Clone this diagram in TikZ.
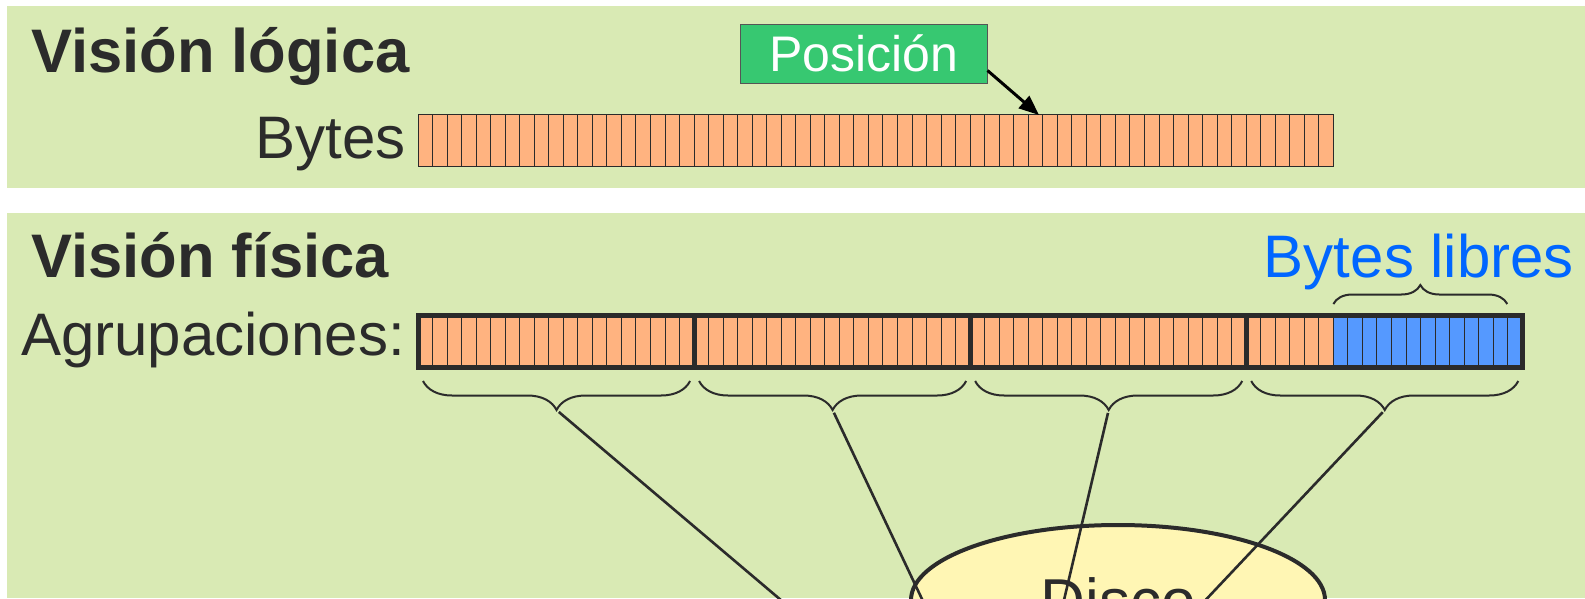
\documentclass[tikz,border=0pt]{standalone}
\usepackage{fontspec}
\setmainfont{Liberation Sans}
\usetikzlibrary{arrows.meta,decorations.pathreplacing,shapes.geometric}

\definecolor{fondo}{HTML}{D9EAB4}
\definecolor{naranja}{HTML}{FFB380}
\definecolor{azul}{HTML}{5599FF}
\definecolor{azultxt}{HTML}{0066FF}
\definecolor{verde}{HTML}{37C871}
\definecolor{amarillo}{HTML}{FFF6B4}
\definecolor{oscuro}{HTML}{2B2B2B}

\begin{document}
\begin{tikzpicture}[x=1pt, y=-1pt,
  celda/.style={draw=oscuro, line width=1pt, fill=naranja, minimum width=14.53pt, minimum height=52pt, inner sep=0pt, outer sep=0pt},
  libre/.style={celda, fill=azul},
  grupo/.style={draw=oscuro, line width=5pt},
  titulo/.style={font=\fontsize{61.5}{72}\selectfont\bfseries, text=oscuro, inner sep=0pt},
  texto/.style={font=\fontsize{60}{72}\selectfont, text=oscuro, inner sep=0pt},
  etiqueta/.style={draw=oscuro!80, line width=1pt, fill=verde, text=white, font=\fontsize{50}{60}\selectfont, minimum width=247pt, minimum height=59pt, text height=36pt, text depth=0pt, inner sep=0pt},
  flecha/.style={draw=black, line width=3pt, -{Triangle[length=20pt,width=16pt]}},
  llave/.style={draw=oscuro, line width=2pt, decorate, decoration={brace, mirror, amplitude=29pt}},
  llavearriba/.style={draw=oscuro, line width=2pt, decorate, decoration={brace, amplitude=19pt}},
  disco/.style={ellipse, draw=oscuro, line width=4pt, fill=amarillo, minimum width=414pt, minimum height=150pt, font=\fontsize{62}{74}\selectfont, text=oscuro},
  linea/.style={draw=oscuro, line width=2.6pt, shorten <=3pt}]

  \useasboundingbox (0,0) rectangle (1585,598);
  \clip (0,0) rectangle (1585,598);
  \fill[white] (0,0) rectangle (1585,598);

  % paneles
  \fill[fondo] (7,6) rectangle (1585,188);
  \fill[fondo] (7,213) rectangle (1585,598);

  % vision logica
  \node[titulo, anchor=base west] (vlog) at (31,72) {Visión lógica};
  \node[texto, anchor=base east] (bytes) at (406,158) {Bytes};
  \foreach \i in {1,...,63}
    \node[celda] (b\i) at ({418+(\i-0.5)*14.53}, 140) {};
  \node[etiqueta] (pos) at (863.5,53.5) {Posición};
  \coordinate (dest) at (1039,115);
  \draw[flecha] ([yshift=13pt]pos.south east) -- (dest);

  % vision fisica
  \node[titulo, anchor=base west] (vfis) at (31,277) {Visión física};
  \node[texto, anchor=base west] (agrup) at (21,355) {Agrupaciones:};
  \foreach \i in {1,...,63}
    \node[celda] (a\i) at ({418+(\i-0.5)*14.53}, 341) {};
  \foreach \i in {64,...,76}
    \node[libre] (a\i) at ({418+(\i-0.5)*14.53}, 341) {};

  % agrupaciones y llaves
  \foreach \k in {0,...,3}{
    \pgfmathtruncatemacro{\ini}{19*\k+1}
    \pgfmathtruncatemacro{\fin}{19*\k+19}
    \draw[grupo] (a\ini.north west) rectangle (a\fin.south east);
    \draw[llave] ([xshift=5pt,yshift=-14pt]a\ini.south west) -- ([xshift=-4pt,yshift=-14pt]a\fin.south east)
      coordinate[midway, yshift=-29pt] (p\k);
  }
  \draw[llavearriba] ([yshift=11pt]a64.north west) -- ([xshift=-15pt,yshift=11pt]a76.north east);
  \node[texto, text=azultxt, anchor=base] (libres) at (1419,277) {Bytes libres};

  % disco
  \node[disco] (disco) at (1118,600) {Disco};
  \coordinate (foco) at (1017,800);
  \foreach \k in {0,...,3}
    \draw[linea] (p\k) -- (foco);

\end{tikzpicture}
\end{document}
